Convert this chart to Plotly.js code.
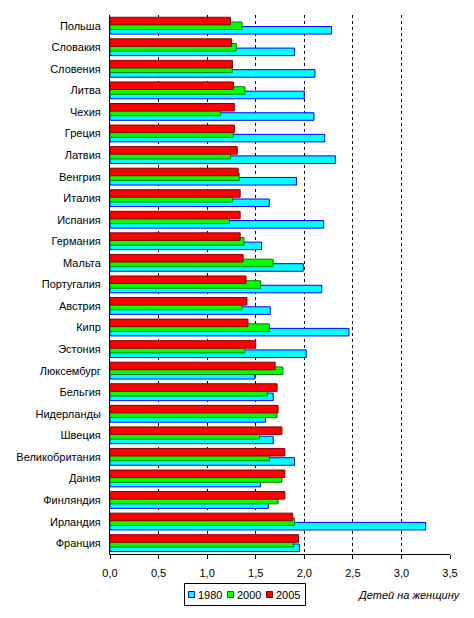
<!DOCTYPE html>
<html>
<head>
<meta charset="utf-8">
<script src="https://cdn.plot.ly/plotly-3.0.1.min.js"></script>
<style>html,body{margin:0;padding:0;background:#fff;}#chart{width:474px;height:618px;}</style>
</head>
<body>
<div id="chart"></div>
<script>
const countries = ["Польша","Словакия","Словения","Литва","Чехия","Греция","Латвия","Венгрия","Италия","Испания","Германия","Мальта","Португалия","Австрия","Кипр","Эстония","Люксембург","Бельгия","Нидерланды","Швеция","Великобритания","Дания","Финляндия","Ирландия","Франция"];
const v1980 = [2.28,1.90,2.11,2.00,2.10,2.21,2.32,1.92,1.64,2.20,1.56,1.99,2.18,1.65,2.46,2.02,1.49,1.68,1.60,1.68,1.90,1.55,1.63,3.25,1.95];
const v2000 = [1.36,1.30,1.26,1.39,1.14,1.27,1.24,1.33,1.26,1.23,1.38,1.68,1.55,1.36,1.64,1.39,1.78,1.62,1.72,1.54,1.64,1.77,1.73,1.90,1.89];
const v2005 = [1.24,1.25,1.26,1.27,1.28,1.28,1.31,1.32,1.34,1.34,1.34,1.37,1.40,1.41,1.42,1.50,1.70,1.72,1.73,1.77,1.80,1.80,1.80,1.88,1.94];
const seriesNames = ["1980","2000","2005"];
const xTicks = [0,0.5,1,1.5,2,2.5,3,3.5];
const xTitle = "Детей на женщину";

const font = {family: "Arial, 'Liberation Sans', sans-serif", size: 11, color: "#000"};
const M = {l: 110, r: 24, t: 15, b: 64};
const PW = 474 - M.l - M.r, PH = 618 - M.t - M.b;
const px = x => (x - M.l) / PW;
const py = y => (618 - M.b - y) / PH;

const W = 0.35;
const styles = [
  {fill: "#00FFFF", line: "#0000FF", off: 0.035},
  {fill: "#00FF00", line: "#008000", off: -0.175},
  {fill: "#FF0000", line: "#800000", off: -0.395}
];
const values = [v1980, v2000, v2005];
const traces = values.map((vals, i) => ({
  type: "bar", orientation: "h", name: seriesNames[i], x: vals, y: countries,
  offset: styles[i].off, width: W,
  marker: {color: styles[i].fill, line: {color: styles[i].line, width: 1}},
  hoverinfo: "x+y+name"
}));

// custom legend
const shapes = [{
  type: "rect", xref: "paper", yref: "paper",
  x0: px(184.5), x1: px(305.5), y0: py(583.5), y1: py(605.5),
  line: {color: "#000", width: 1}, fillcolor: "rgba(0,0,0,0)"
}];
const annotations = [];
const symX = [188.5, 227.5, 266.5];
const txtX = [196.5, 235.5, 274.5];
seriesNames.forEach((n, i) => {
  shapes.push({
    type: "rect", xref: "paper", yref: "paper",
    x0: px(symX[i]), x1: px(symX[i] + 6), y0: py(591.5), y1: py(597.5),
    line: {color: styles[i].line, width: 1}, fillcolor: styles[i].fill
  });
  annotations.push({
    xref: "paper", yref: "paper", x: px(txtX[i]), y: py(594.5),
    xanchor: "left", yanchor: "middle", text: n, showarrow: false, font: font,
    borderpad: 0
  });
});
annotations.push({
  xref: "paper", yref: "paper", x: px(462), y: py(594.5), xanchor: "right", yanchor: "middle",
  text: "<i>" + xTitle + "</i>", showarrow: false, font: font, borderpad: 0
});

const layout = {
  width: 474, height: 618,
  margin: M,
  paper_bgcolor: "#fff", plot_bgcolor: "#fff",
  font: font,
  separators: ", ",
  barmode: "overlay",
  showlegend: false,
  xaxis: {
    range: [0, 3.5], tickvals: xTicks, tickformat: ".1f",
    showgrid: true, gridcolor: "#000", gridwidth: 1, griddash: "3px,3px",
    showline: true, linecolor: "#000", linewidth: 1,
    ticks: "outside", ticklen: 4, tickcolor: "#000", ticklabelstandoff: 5,
    zeroline: false, fixedrange: true
  },
  yaxis: {
    type: "category", autorange: "reversed",
    showline: true, linecolor: "#000", linewidth: 1,
    showgrid: false, zeroline: false, ticks: "", ticklabelstandoff: 6,
    fixedrange: true
  },
  shapes: shapes,
  annotations: annotations
};

Plotly.newPlot("chart", traces, layout, {displayModeBar: false, staticPlot: true});
</script>
</body>
</html>
